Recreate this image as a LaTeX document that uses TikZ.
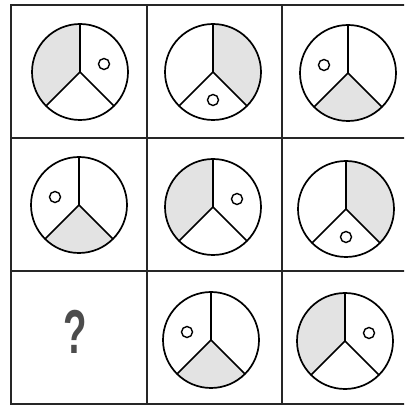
\documentclass[tikz,border=0pt]{standalone}
\usepackage{fontspec}
\setsansfont{Liberation Sans}

\begin{document}
\begin{tikzpicture}[x=1pt,y=1pt,
			grid/.style={draw,line width=1.8pt,black!85},
			wheel/.style={draw,circle,line width=1.7pt,minimum size=96pt,inner sep=0pt,outer sep=0pt},
			spoke/.style={line width=1.7pt},
			shade/.style={fill=gray!22},
			dot/.style={draw,circle,line width=1.4pt,minimum size=11pt,inner sep=0pt},
			qmark/.style={font=\sffamily\bfseries\fontsize{62}{62}\selectfont,text=black!70,xscale=0.62,transform shape}]
			\useasboundingbox (0,0) rectangle (404,412);
			\clip (0,0) rectangle (404,412);
			\fill[white] (0,0) rectangle (404,412);
			% grid, right border falls outside the picture
			\draw[grid] (11,8) rectangle (418,407);
			\draw[grid] (147,8) -- (147,407);
			\draw[grid] (282,8) -- (282,407);
			\draw[grid] (11,274) -- (418,274);
			\draw[grid] (11,141) -- (418,141);
			% name / centre / shaded sector / dot offset
			\foreach \n/\cx/\cy/\sa/\sb/\dx/\dy in {
					a/80/340/90/225/24/8, b/213/340/-45/90/0/-28, c/348/339/225/315/-24/8,
					d/79/207/225/315/-24/8, e/213/205/90/225/24/8, f/346/203/-45/90/0/-28,
					h/211/72/225/315/-24/8, i/345/71/90/225/24/8} {
				\coordinate (\n) at (\cx,\cy);
				\fill[shade] (\n) -- ++(\sa:48) arc[start angle=\sa,end angle=\sb,radius=48] -- cycle;
				\node[wheel] (\n w) at (\n) {};
				\draw[spoke] (\n w.90) -- (\n) -- (\n w.225);
				\draw[spoke] (\n) -- (\n w.-45);
				\node[dot] (\n d) at (\cx+\dx,\cy+\dy) {};
			}
			\node[qmark] (q) at (75.5,80) {?};
		\end{tikzpicture}
\end{document}
